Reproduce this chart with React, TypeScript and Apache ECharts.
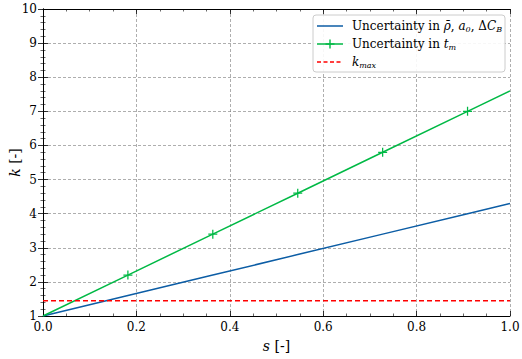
import React, { useEffect, useRef } from "react";
import * as echarts from "echarts";

const sValues = [0, 0.1818, 0.3636, 0.5455, 0.7273, 0.9091, 1];
const kBlue = [1, 1.6, 2.2, 2.8, 3.4, 4.0, 4.3];
const kGreen = [1, 2.2, 3.4, 4.6, 5.8, 7.0, 7.6];
const markerIdx = [1, 2, 3, 4, 5];
const kMaxS = [0, 1];
const kMaxVal = [1.45, 1.45];

const FONT = "DejaVu Serif";
const PLUS = "path://M4.3,0H5.7V4.3H10V5.7H5.7V10H4.3V5.7H0V4.3H4.3Z";
const BLUE = "#0C5DA5";
const GREEN = "#00B945";
const RED = "#FF0000";

export default function App() {
  const ref = useRef<HTMLDivElement>(null);
  useEffect(() => {
    const chart = echarts.init(ref.current!, null, { renderer: "svg" });
    const axisLine = { show: true, lineStyle: { color: "#000", width: 1 } };
    const axisTick = { show: true, inside: true, length: 5, lineStyle: { color: "#000", width: 0.8 } };
    const minorTick = { show: true, length: 2.5, lineStyle: { color: "#000", width: 0.6 } };
    const splitLine = { show: true, lineStyle: { color: "#777", type: [3, 2], width: 0.6 } };
    const rich = {
      n: { fontFamily: FONT, fontSize: 12, color: "#000" },
      i: { fontFamily: FONT, fontSize: 12, fontStyle: "italic", color: "#000" },
      s: { fontFamily: FONT, fontSize: 8, fontStyle: "italic", color: "#000", padding: [7, 0, 0, 0] },
    };
    const lx = 317;
    const rows = [26, 44, 62];
    chart.setOption({
      animation: false,
      backgroundColor: "#fff",
      textStyle: { fontFamily: FONT },
      grid: { left: 43, right: 12, top: 9, bottom: 43, outerBoundsMode: "none", containLabel: false },
      graphic: [
        {
          type: "rect",
          shape: { x: 313, y: 15, width: 192, height: 57, r: 3 },
          style: { fill: "rgba(255,255,255,0.9)", stroke: "#cccccc", lineWidth: 1 },
          z: 100,
        },
        { type: "line", shape: { x1: lx, y1: rows[0], x2: lx + 26, y2: rows[0] }, style: { stroke: BLUE, lineWidth: 1.5 }, z: 101 },
        { type: "line", shape: { x1: lx, y1: rows[1], x2: lx + 26, y2: rows[1] }, style: { stroke: GREEN, lineWidth: 1.5 }, z: 101 },
        { type: "line", shape: { x1: lx + 13, y1: rows[1] - 4.5, x2: lx + 13, y2: rows[1] + 4.5 }, style: { stroke: GREEN, lineWidth: 1.4 }, z: 101 },
        { type: "line", shape: { x1: lx + 8.5, y1: rows[1], x2: lx + 17.5, y2: rows[1] }, style: { stroke: GREEN, lineWidth: 1.4 }, z: 101 },
        { type: "line", shape: { x1: lx, y1: rows[2], x2: lx + 26, y2: rows[2] }, style: { stroke: RED, lineWidth: 1.5, lineDash: [4, 2.5] }, z: 101 },
        {
          type: "text", x: 352, y: rows[0], z: 101,
          style: { text: "{n|Uncertainty in }{i|ρ̄}{n|, }{i|a}{s|0}{n|, Δ}{i|C}{s|B}", rich, verticalAlign: "middle", fontFamily: FONT, fontSize: 12 },
        },
        {
          type: "text", x: 352, y: rows[1], z: 101,
          style: { text: "{n|Uncertainty in }{i|t}{s|m}", rich, verticalAlign: "middle", fontFamily: FONT, fontSize: 12 },
        },
        {
          type: "text", x: 352, y: rows[2], z: 101,
          style: { text: "{i|k}{s|max}", rich, verticalAlign: "middle", fontFamily: FONT, fontSize: 12 },
        },
      ],
      xAxis: [
        {
          type: "value", min: 0, max: 1, interval: 0.2,
          minorTick: { ...minorTick, splitNumber: 4 }, axisLine, axisTick,
          axisLabel: { fontFamily: FONT, fontSize: 12, color: "#000", margin: 5, formatter: (v: number) => v.toFixed(1) },
          splitLine,
          name: "{i|s} [-]", nameLocation: "middle", nameGap: 23, nameMoveOverlap: false,
          nameTextStyle: {
            fontFamily: FONT, fontSize: 14, color: "#000",
            rich: { i: { fontFamily: FONT, fontSize: 14, fontStyle: "italic", color: "#000" } },
          },
        },
        {
          type: "value", position: "top", min: 0, max: 1, interval: 0.2,
          minorTick: { ...minorTick, splitNumber: 4 }, axisLine, axisTick,
          axisLabel: { show: false }, splitLine: { show: false },
        },
      ],
      yAxis: [
        {
          type: "value", min: 1, max: 10, interval: 1,
          minorTick: { ...minorTick, splitNumber: 5 }, axisLine, axisTick,
          axisLabel: { fontFamily: FONT, fontSize: 12, color: "#000", margin: 6 },
          splitLine,
          name: "{i|k} [-]", nameLocation: "middle", nameGap: 21, nameMoveOverlap: false,
          nameTextStyle: {
            fontFamily: FONT, fontSize: 14, color: "#000",
            rich: { i: { fontFamily: FONT, fontSize: 14, fontStyle: "italic", color: "#000" } },
          },
        },
        {
          type: "value", position: "right", min: 1, max: 10, interval: 1,
          minorTick: { ...minorTick, splitNumber: 5 }, axisLine, axisTick,
          axisLabel: { show: false }, splitLine: { show: false },
        },
      ],
      series: [
        {
          name: "blue", type: "line",
          data: sValues.map((s, i) => [s, kBlue[i]]),
          symbol: "none",
          lineStyle: { color: BLUE, width: 1.5 },
          itemStyle: { color: BLUE },
        },
        {
          name: "green", type: "line",
          data: sValues.map((s, i) => ({
            value: [s, kGreen[i]],
            symbol: markerIdx.includes(i) ? PLUS : "none",
          })),
          symbol: PLUS, symbolSize: 9, showSymbol: true,
          lineStyle: { color: GREEN, width: 1.5 },
          itemStyle: { color: GREEN },
        },
        {
          name: "red", type: "line",
          data: kMaxS.map((s, i) => [s, kMaxVal[i]]),
          symbol: "none",
          lineStyle: { color: RED, width: 1.5, type: [5, 3] },
          itemStyle: { color: RED },
        },
      ],
    });
    return () => chart.dispose();
  }, []);
  return <div ref={ref} style={{ width: 522, height: 359, position: "absolute", left: 0, top: 0 }} />;
}
